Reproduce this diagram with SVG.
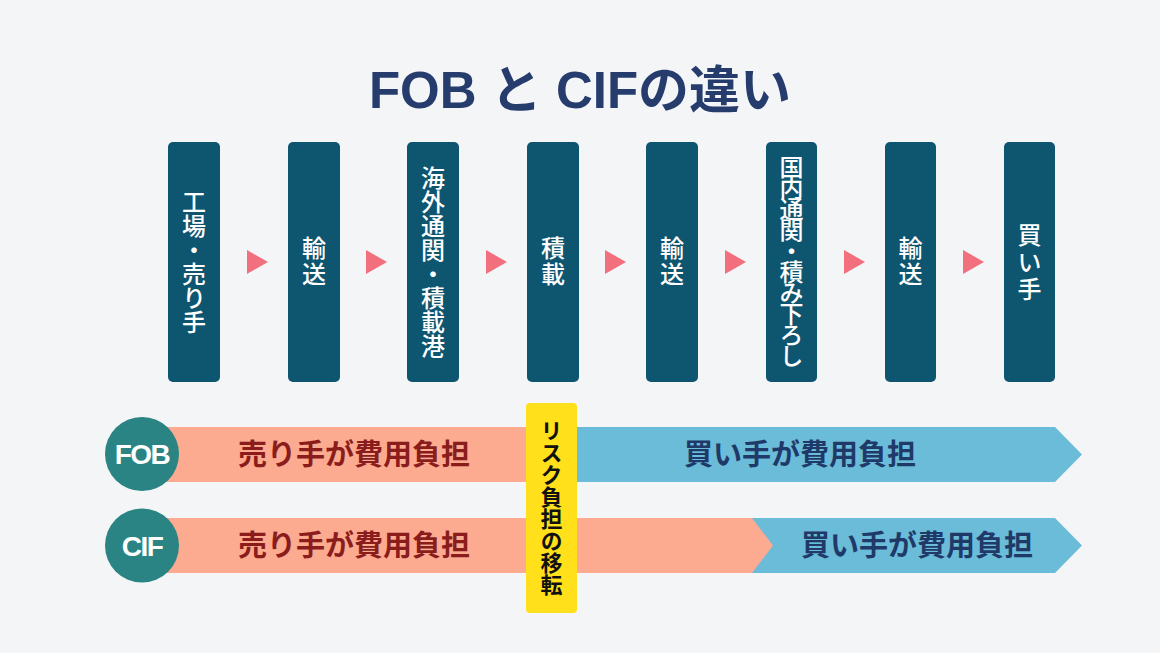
<svg xmlns="http://www.w3.org/2000/svg" width="1160" height="653" viewBox="0 0 1160 653">
<style>
.bg{fill:#F4F5F7}
.title{font-family:"Liberation Sans","Noto Sans CJK JP",sans-serif;font-weight:700;font-size:51px;fill:#263C6D}
.box{fill:#0E5570}
.vt{font-family:"Noto Sans CJK JP",sans-serif;font-weight:500;font-size:24px;fill:#FFFFFF;writing-mode:vertical-rl;text-orientation:upright;text-anchor:middle}
.tri{fill:#F2707E}
.sal{fill:#FCAA90}
.blu{fill:#6BBCD8}
.circ{fill:#2A8483}
.ct{font-family:"Liberation Sans",sans-serif;font-weight:700;font-size:28px;fill:#FFFFFF;letter-spacing:-1.5px;text-anchor:middle}
.rt{font-family:"Noto Sans CJK JP",sans-serif;font-weight:700;font-size:29px;fill:#8A1C1C;text-anchor:middle}
.bt{font-family:"Noto Sans CJK JP",sans-serif;font-weight:700;font-size:29px;fill:#1F3A68;text-anchor:middle}
.yel{fill:#FFE01A}
.yt{font-family:"Noto Sans CJK JP",sans-serif;font-weight:700;font-size:22px;fill:#111111;writing-mode:vertical-rl;text-orientation:upright;text-anchor:middle}
</style>
<rect class="bg" x="0" y="0" width="1160" height="653"/>
<g id="title"><text class="title" x="580" y="108" text-anchor="middle">FOB と CIFの違い</text></g>

<g id="step1"><rect class="box" x="168" y="142" width="52" height="240" rx="5"/><text class="vt" x="194" y="262">工場・売り手</text></g>
<g id="step2"><rect class="box" x="288" y="142" width="52" height="240" rx="5"/><text class="vt" x="314" y="262" style="letter-spacing:2px">輸送</text></g>
<g id="step3"><rect class="box" x="407" y="142" width="52" height="240" rx="5"/><text class="vt" x="433" y="262">海外通関・積載港</text></g>
<g id="step4"><rect class="box" x="527" y="142" width="52" height="240" rx="5"/><text class="vt" x="553" y="262" style="letter-spacing:2px">積載</text></g>
<g id="step5"><rect class="box" x="646" y="142" width="52" height="240" rx="5"/><text class="vt" x="672" y="262" style="letter-spacing:2px">輸送</text></g>
<g id="step6"><rect class="box" x="766" y="142" width="51" height="240" rx="5"/><text class="vt" x="791.5" y="260" style="letter-spacing:-3px">国内通関・積み下ろし</text></g>
<g id="step7"><rect class="box" x="885" y="142" width="51" height="240" rx="5"/><text class="vt" x="910.5" y="262" style="letter-spacing:2px">輸送</text></g>
<g id="step8"><rect class="box" x="1004" y="142" width="51" height="240" rx="5"/><text class="vt" x="1029.5" y="263" style="letter-spacing:3px">買い手</text></g>

<g id="connectors">
<polygon class="tri" points="247,250 268,262 247,274"/>
<polygon class="tri" points="366,250 387,262 366,274"/>
<polygon class="tri" points="486,250 507,262 486,274"/>
<polygon class="tri" points="605,250 626,262 605,274"/>
<polygon class="tri" points="725,250 746,262 725,274"/>
<polygon class="tri" points="844,250 865,262 844,274"/>
<polygon class="tri" points="963,250 984,262 963,274"/>
</g>

<g id="fob-row">
<rect class="sal" x="160" y="427" width="420" height="55"/>
<polygon class="blu" points="575,427 1055,427 1082,454.5 1055,482 575,482"/>
<text class="rt" x="354" y="465">売り手が費用負担</text>
<text class="bt" x="800" y="465">買い手が費用負担</text>
<circle class="circ" cx="142" cy="454" r="37"/>
<text class="ct" x="142" y="464">FOB</text>
</g>

<g id="cif-row">
<polygon class="blu" points="740,518 1055,518 1082,545.5 1055,573 740,573"/>
<polygon class="sal" points="160,518 752,518 773,545.5 752,573 160,573"/>
<text class="rt" x="354" y="556">売り手が費用負担</text>
<text class="bt" x="917" y="556">買い手が費用負担</text>
<circle class="circ" cx="142" cy="545.5" r="37"/>
<text class="ct" x="142" y="555.5">CIF</text>
</g>

<g id="risk-transfer">
<rect class="yel" x="526" y="403" width="51" height="210" rx="4"/>
<text class="yt" x="551.5" y="508">リスク負担の移転</text>
</g>
</svg>
